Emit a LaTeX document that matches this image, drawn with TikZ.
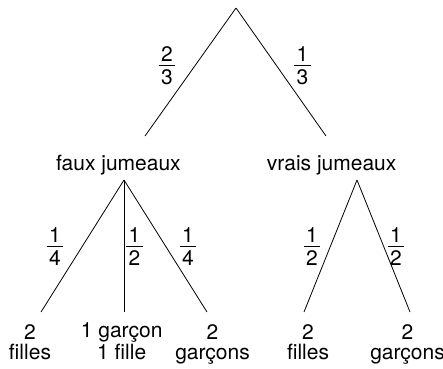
\documentclass[tikz,border=0pt]{standalone}
\usepackage{fontspec}
\setmainfont{TeX Gyre Heros}
\newcommand\fr[2]{\vbox{\offinterlineskip\halign{\hfil\kern2.5pt##\kern2.5pt\hfil\cr
\vrule height 18pt depth 3.5pt width 0pt #1\cr
\noalign{\hrule height 1pt}
\vrule height 18.5pt depth 3pt width 0pt #2\cr}}}
\begin{document}
\begin{tikzpicture}[x=1pt,y=-1pt,
  lbl/.style={font=\fontsize{21}{19.5}\selectfont, inner sep=0pt, align=center},
  frc/.style={font=\fontsize{21}{20}\selectfont, inner sep=0pt},
  br/.style={line width=0.8pt}]
\useasboundingbox (0,0) rectangle (443,368);
% coordinates
\coordinate (root) at (236,8);
\coordinate (fjtop) at (145,136);
\coordinate (vjtop) at (326,136);
\coordinate (fjapex) at (124,180);
\coordinate (vjapex) at (357,180);
\coordinate (l1) at (41,312);
\coordinate (l2) at (124,312);
\coordinate (l3) at (207,312);
\coordinate (l4) at (304,312);
\coordinate (l5) at (410,312);
% labels
\node[lbl, anchor=base] (fj) at (118.4,170) {faux jumeaux};
\node[lbl, anchor=base] (vj) at (331.7,170) {vrais jumeaux};
\node[lbl, anchor=base] (ff) at (30,359) {2\\filles};
\node[lbl, anchor=base] (gf) at (121.7,359) {1 garçon\\1 fille};
\node[lbl, anchor=base] (gg) at (212.5,359) {2\\garçons};
\node[lbl, anchor=base] (ff2) at (308,359) {2\\filles};
\node[lbl, anchor=base] (gg2) at (407.5,359) {2\\garçons};
% branches
\draw[br] (root) -- (fjtop);
\draw[br] (root) -- (vjtop);
\draw[br] (fjapex) -- (l1);
\draw[br] (fjapex) -- (l2);
\draw[br] (fjapex) -- (l3);
\draw[br] (vjapex) -- (l4);
\draw[br] (vjapex) -- (l5);
% fractions
\node[frc] (p1) at (167,65.5) {\fr{2}{3}};
\node[frc] (p2) at (302.5,65.5) {\fr{1}{3}};
\node[frc] (p3) at (55,246.5) {\fr{1}{4}};
\node[frc] (p4) at (134.5,246.5) {\fr{1}{2}};
\node[frc] (p5) at (188,246.5) {\fr{1}{4}};
\node[frc] (p6) at (312,246.5) {\fr{1}{2}};
\node[frc] (p7) at (396,246.5) {\fr{1}{2}};
\end{tikzpicture}
\end{document}
